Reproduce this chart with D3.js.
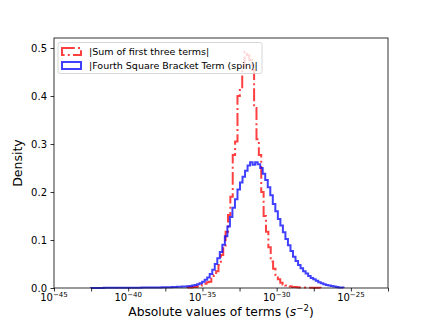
<!DOCTYPE html>
<html>
<head>
<meta charset="utf-8">
<script src="https://cdn.jsdelivr.net/npm/d3@7"></script>
<style>
  html, body { margin: 0; padding: 0; background: #fff; }
  svg { display: block; font-family: "DejaVu Sans", sans-serif; }
</style>
</head>
<body>
<svg id="chart" width="432" height="324"></svg>
<script>
// ---- data (log10 exponents of bin edges; density per decade) ----
const seriesNames = ["|Sum of first three terms|", "|Fourth Square Bracket Term (spin)|"];

const redStart = -36.0;
const redWidth = 0.16;
const redValues = [
  0.001, 0.001, 0.002, 0.002, 0.003, 0.005, 0.007, 0.009, 0.012, 0.013,
  0.022, 0.027, 0.035, 0.048, 0.069, 0.086, 0.117, 0.152, 0.19, 0.277,
  0.305, 0.40, 0.416, 0.46, 0.492, 0.485, 0.475, 0.454, 0.375, 0.31,
  0.277, 0.20, 0.15, 0.117, 0.085, 0.055, 0.04, 0.027, 0.018, 0.011,
  0.007, 0.005, 0.004, 0.003, 0.002, 0.002, 0.0015, 0.001, 0.001, 0.001,
  0.0008, 0.0006, 0.0005, 0.0004, 0.0003, 0.0003
];

const blueStart = -42.5;
const blueWidth = 0.17;
const blueValues = [
  0.0002, 0.0002, 0.0002, 0.0002, 0.0002, 0.0003, 0.0003, 0.0003, 0.0003, 0.0003,
  0.0004, 0.0004, 0.0004, 0.0005, 0.0005, 0.0005, 0.0006, 0.0006, 0.0007, 0.0007,
  0.0008, 0.0008, 0.0009, 0.001, 0.001, 0.0011, 0.0012, 0.0013, 0.0014, 0.0015,
  0.0016, 0.0018, 0.002, 0.0022, 0.0025, 0.0028, 0.003, 0.0033, 0.0036, 0.004,
  0.005, 0.006, 0.008, 0.010, 0.013, 0.017, 0.022, 0.029, 0.038, 0.05,
  0.062, 0.075, 0.09, 0.108, 0.128, 0.148, 0.167, 0.185, 0.205, 0.22,
  0.232, 0.244, 0.255, 0.262, 0.257, 0.262, 0.258, 0.25, 0.238, 0.225,
  0.21, 0.193, 0.175, 0.16, 0.144, 0.13, 0.116, 0.102, 0.089, 0.077,
  0.065, 0.056, 0.048, 0.041, 0.035, 0.03, 0.025, 0.021, 0.018, 0.015,
  0.012, 0.01, 0.008, 0.006, 0.005, 0.004, 0.003, 0.002, 0.001, 0.0008
];

const xTickExps = [-45, -42.5, -40, -37.5, -35, -32.5, -30, -27.5, -25, -22.5];
const xLabelExps = [-45, -40, -35, -30, -25];
const yTicks = [0.0, 0.1, 0.2, 0.3, 0.4, 0.5];
const xDomainExp = [-45, -22.5];
const yDomain = [0, 0.5208];

// ---- layout ----
const svg = d3.select("#chart");
const L = 54, R = 388, T = 38, B = 288;

const x = d3.scaleLog().domain(xDomainExp.map(e => Math.pow(10, e))).range([L, R]);
const y = d3.scaleLinear().domain(yDomain).range([B, T]);

function stepPath(start, width, values) {
  const p = d3.path();
  const e0 = Math.pow(10, start);
  p.moveTo(x(e0), y(0));
  values.forEach((v, i) => {
    const a = Math.pow(10, start + i * width);
    const b = Math.pow(10, start + (i + 1) * width);
    p.lineTo(x(a), y(v));
    p.lineTo(x(b), y(v));
  });
  p.lineTo(x(Math.pow(10, start + values.length * width)), y(0));
  return p.toString();
}

const redColor = "rgba(255,0,0,0.75)";
const blueColor = "rgba(0,0,255,0.75)";
const dashDot = "12.8,3.2,2,3.2";

const plot = svg.append("g");
plot.append("path")
  .attr("d", stepPath(redStart, redWidth, redValues))
  .attr("fill", "none").attr("stroke", redColor).attr("stroke-width", 2)
  .attr("stroke-dasharray", dashDot).attr("stroke-linejoin", "miter");
plot.append("path")
  .attr("d", stepPath(blueStart, blueWidth, blueValues))
  .attr("fill", "none").attr("stroke", blueColor).attr("stroke-width", 2)
  .attr("stroke-linejoin", "miter");

// ---- axes ----
const yAxis = d3.axisLeft(y).tickValues(yTicks).tickSize(3.5).tickPadding(3.5)
  .tickFormat(d3.format(".1f"));
const gy = svg.append("g").attr("transform", `translate(${L},0)`).call(yAxis);
gy.select(".domain").remove();
gy.selectAll("text").attr("font-size", 10).attr("fill", "#000")
  .attr("font-family", "DejaVu Sans, sans-serif");
gy.selectAll("line").attr("stroke", "#000").attr("stroke-width", 0.8);

const xAxis = d3.axisBottom(x).tickValues(xTickExps.map(e => Math.pow(10, e)))
  .tickSize(3.5).tickFormat(() => "");
const gx = svg.append("g").attr("transform", `translate(0,${B})`).call(xAxis);
gx.select(".domain").remove();
gx.selectAll("line").attr("stroke", "#000").attr("stroke-width", 0.8);

// x tick labels with superscripts
const xl = svg.append("g");
xLabelExps.forEach(e => {
  const t = xl.append("text")
    .attr("x", x(Math.pow(10, e)))
    .attr("y", 301)
    .attr("text-anchor", "middle")
    .attr("font-size", 10)
    .attr("fill", "#000");
  t.append("tspan").text("10");
  t.append("tspan").attr("dy", -4.5).attr("font-size", 7).text("\u2212" + Math.abs(e));
});

// spines
svg.append("rect").attr("x", L).attr("y", T).attr("width", R - L).attr("height", B - T)
  .attr("fill", "none").attr("stroke", "#000").attr("stroke-width", 0.8);

// axis labels
svg.append("text").attr("transform", `translate(22,${(T + B) / 2}) rotate(-90)`)
  .attr("text-anchor", "middle").attr("font-size", 12.5).attr("fill", "#000").text("Density");

const xlab = svg.append("text").attr("x", 221).attr("y", 316)
  .attr("text-anchor", "middle").attr("font-size", 12.3).attr("fill", "#000");
xlab.append("tspan").text("Absolute values of terms (");
xlab.append("tspan").attr("font-style", "italic").text("s");
xlab.append("tspan").attr("dy", -5).attr("font-size", 8.6).text("\u22122");
xlab.append("tspan").attr("dy", 5).text(")");

// ---- legend ----
const lg = svg.append("g");
lg.append("rect").attr("x", 58).attr("y", 42.5).attr("width", 204).attr("height", 31)
  .attr("rx", 2).attr("fill", "rgba(255,255,255,0.8)")
  .attr("stroke", "#cccccc").attr("stroke-width", 0.8);
const entries = [
  { name: seriesNames[0], color: redColor, dash: true },
  { name: seriesNames[1], color: blueColor, dash: false }
];
entries.forEach((d, i) => {
  const cy = 51.5 + i * 14;
  lg.append("rect").attr("x", 62).attr("y", cy - 3.5).attr("width", 19).attr("height", 7)
    .attr("fill", "none").attr("stroke", d.color).attr("stroke-width", 2)
    .attr("stroke-dasharray", d.dash ? dashDot : null);
  lg.append("text").attr("x", 89).attr("y", cy + 3.5).attr("font-size", 9.5)
    .attr("fill", "#000").text(d.name);
});
</script>
</body>
</html>
